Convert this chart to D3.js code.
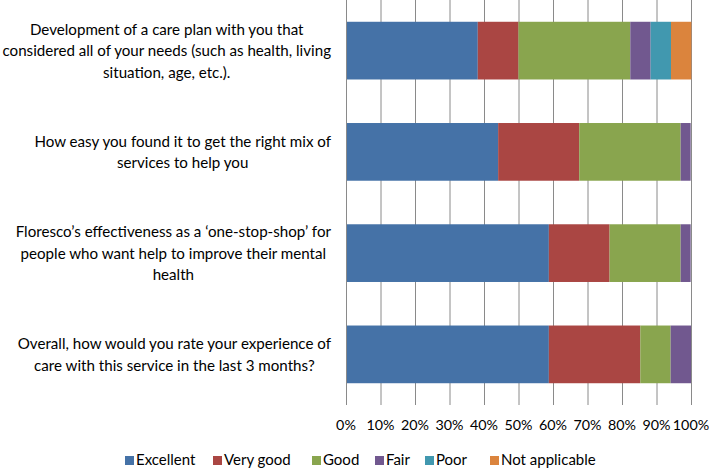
<!DOCTYPE html>
<html><head><meta charset="utf-8">
<script src="https://cdn.jsdelivr.net/npm/d3@7"></script>
<style>body{margin:0;background:#fff}svg{display:block}</style>
</head><body>
<svg id="c" width="709" height="468"></svg>
<script>
const categories = [
  ["Development of a care plan with you that", "considered all of your needs (such as health, living", "situation, age, etc.)."],
  ["How easy you found it to get the right mix of", "services to help you"],
  ["Floresco\u2019s effectiveness as a \u2018one-stop-shop\u2019 for", "people who want help to improve their mental", "health"],
  ["Overall, how would you rate your experience of", "care with this service in the last 3 months?"]
];
const seriesNames = ["Excellent", "Very good", "Good", "Fair", "Poor", "Not applicable"];
const excellent = [38.2, 44.1, 58.8, 58.8];
const veryGood  = [11.8, 23.5, 17.6, 26.5];
const good      = [32.4, 29.4, 20.6, 8.8];
const fair      = [5.9, 2.9, 2.9, 5.9];
const poor      = [5.9, 0, 0, 0];
const notApplicable = [5.9, 0, 0, 0];
const tickValues = [0,10,20,30,40,50,60,70,80,90,100];
const colors = ["#4572A7", "#AA4643", "#89A54E", "#71588F", "#4198AF", "#DB843D"];

(function(){
const series = [excellent, veryGood, good, fair, poor, notApplicable];
const svg = d3.select("#c");
const pLeft = 346, pRight = 691, pTop = 0, pBottom = 405;
const x = d3.scaleLinear().domain([0,100]).range([pLeft,pRight]);
const y = d3.scaleBand().domain(d3.range(categories.length)).range([pTop,pBottom]).paddingInner(0.43).paddingOuter(0.215);

const rows = categories.map((c,i)=>{const o={i}; seriesNames.forEach((s,j)=>o[s]=series[j][i]); return o;});
const stack = d3.stack().keys(seriesNames)(rows);

svg.append("g").selectAll("line").data(tickValues).join("line")
  .attr("x1",d=>x(d)+0.5).attr("x2",d=>x(d)+0.5).attr("y1",pTop).attr("y2",pBottom)
  .attr("stroke","#8a8a8a").attr("stroke-width",1);

svg.append("g").selectAll("g").data(stack).join("g").attr("fill",(d,i)=>colors[i])
  .selectAll("rect").data(d=>d).join("rect")
  .attr("x",d=>x(d[0])).attr("width",d=>Math.max(0,x(d[1])-x(d[0])))
  .attr("y",(d,i)=>y(i)).attr("height",y.bandwidth());

svg.append("line").attr("x1",pLeft+0.5).attr("x2",pLeft+0.5).attr("y1",pTop).attr("y2",pBottom).attr("stroke","#8a8a8a");

const font = "Lato, 'Open Sans', sans-serif";
svg.append("g").selectAll("text").data(tickValues).join("text")
  .attr("x",d=>x(d)).attr("y",430).attr("text-anchor","middle")
  .attr("font-family",font).attr("font-size",14.3).attr("fill","#000")
  .text(d=>d+"%");

// fit label font so the widest reference line is ~329px
const probe = svg.append("text").attr("font-family",font).attr("font-size",16).text(categories[0][1]);
const w16 = probe.node().getComputedTextLength();
probe.remove();
const labelSize = Math.min(16, 16*329/w16);

const labelRight = 331, lineH = 21.5;
categories.forEach((lines,i)=>{
  const g = svg.append("g");
  const cy = y(i)+y.bandwidth()/2;
  const texts = lines.map((l,k)=>g.append("text")
    .attr("y", cy + (k-(lines.length-1)/2)*lineH + 5.5)
    .attr("text-anchor","middle").attr("font-family",font).attr("font-size",labelSize).attr("fill","#000").text(l));
  const maxW = d3.max(texts, t=>t.node().getComputedTextLength());
  texts.forEach(t=>t.attr("x", labelRight - maxW/2));
});

const legX = [125, 213, 312, 375, 425, 490];
const lg = svg.append("g").selectAll("g").data(seriesNames).join("g")
  .attr("transform",(d,i)=>`translate(${legX[i]},0)`);
lg.append("rect").attr("x",0).attr("y",456).attr("width",9).attr("height",9).attr("fill",(d,i)=>colors[i]);
lg.append("text").attr("x",11).attr("y",465).attr("font-family",font).attr("font-size",15).attr("fill","#000").text(d=>d);
})();
</script>
</body></html>
